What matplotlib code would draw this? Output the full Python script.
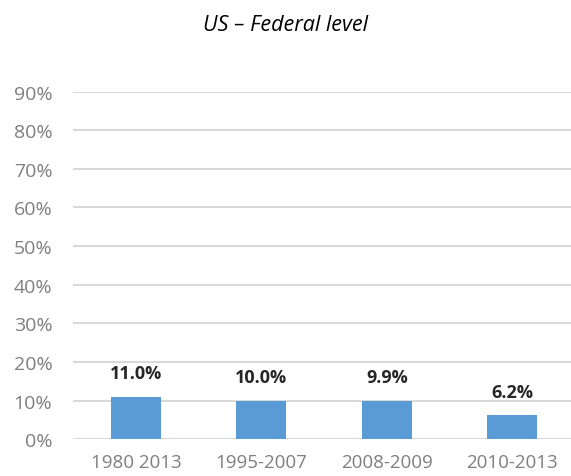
import matplotlib.pyplot as plt
from matplotlib.ticker import PercentFormatter

# data
periods = ['1980 2013', '1995-2007', '2008-2009', '2010-2013']
rates = [11.0, 10.0, 9.9, 6.2]
yticks = [0, 10, 20, 30, 40, 50, 60, 70, 80, 90]

plt.rcParams['font.family'] = ['Open Sans', 'DejaVu Sans']

fig = plt.figure(figsize=(5.71, 4.77), dpi=100)
# right edge runs past the figure, like the clipped gridlines in the reference
ax = fig.add_axes([0.128, 0.077, 0.879, 0.729])

x = range(len(periods))
ax.bar(x, rates, width=0.4, color='#5B9BD5', zorder=3)

for xi, r in zip(x, rates):
    ax.annotate(f'{r:.1f}%', (xi, r), xytext=(0, 17), textcoords='offset points',
                ha='center', va='center', fontsize=13, fontweight='bold', color='#262626')

ax.set_ylim(0, 90)
ax.set_xlim(-0.5, len(periods) - 0.5)
ax.set_yticks(yticks)
ax.yaxis.set_major_formatter(PercentFormatter(decimals=0))
ax.set_xticks(list(x))
ax.set_xticklabels(periods)
ax.grid(axis='y', color='#D9D9D9', linewidth=1.5, zorder=0)
for s in ax.spines.values():
    s.set_visible(False)
ax.tick_params(length=0, colors='#7F7F7F')
ax.tick_params(axis='y', pad=15, labelsize=14)
ax.tick_params(axis='x', pad=10, labelsize=13.5)

fig.text(0.5, 0.947, 'US – Federal level', ha='center', va='center',
         fontsize=15.5, style='italic', color='black')

fig.savefig('out.png', dpi=100)
